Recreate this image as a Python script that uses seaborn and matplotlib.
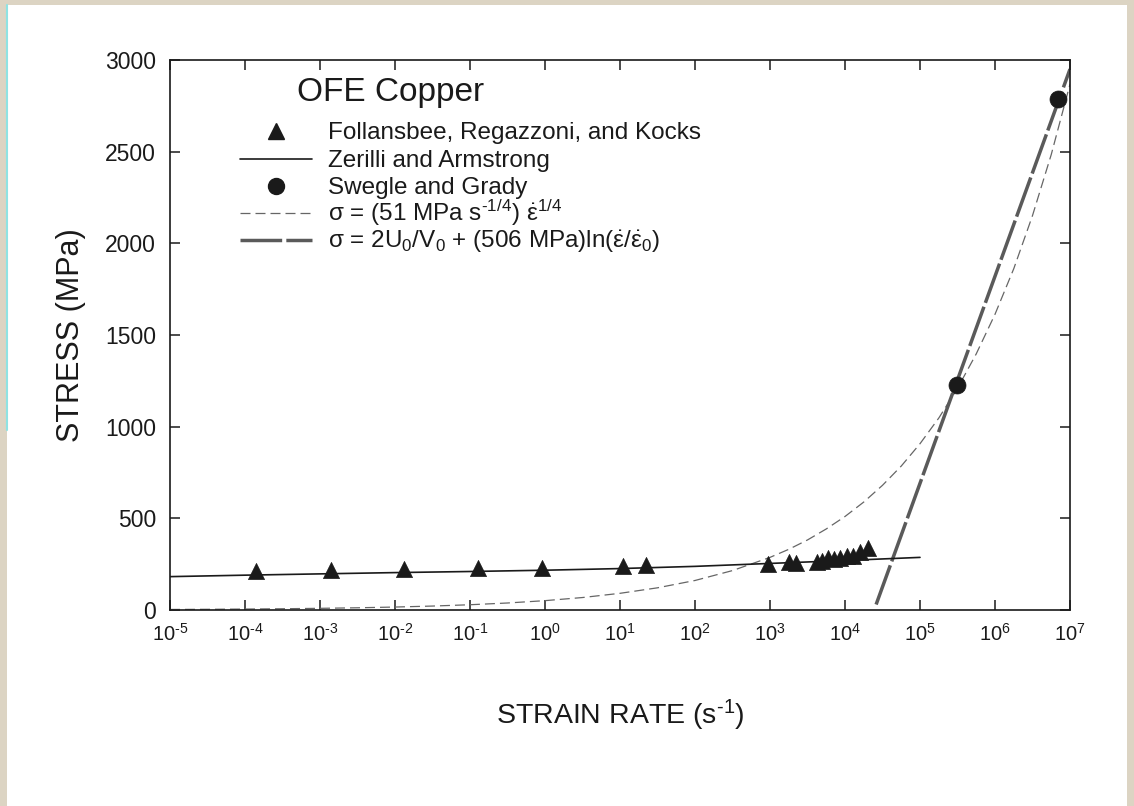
import numpy as np
import pandas as pd
import seaborn as sns
import matplotlib
matplotlib.use("Agg")
import matplotlib.pyplot as plt
from matplotlib.lines import Line2D
from matplotlib.patches import Rectangle

# Follansbee, Regazzoni and Kocks (triangles)
frk_rate = [1.4e-4, 1.4e-3, 1.33e-2, 0.127, 0.92, 10.9, 22.0,
            930.0, 1.8e3, 2.2e3,
            4.2e3, 5.0e3, 6.0e3, 7.2e3, 8.5e3, 1.05e4, 1.26e4, 1.58e4, 2.0e4]
frk_stress = [215, 218, 224, 230, 231, 242, 248,
              253, 262, 256,
              262, 270, 286, 278, 282, 292, 296, 316, 340]

# Zerilli and Armstrong model (solid line)
za_rate = [1e-5, 1e-4, 1e-3, 1e-2, 1e-1, 1e0, 1e1, 1e2, 1e3, 1e4, 1e5]
za_stress = [182, 190, 197, 204, 210, 217, 226, 238, 254, 270, 287]

# Swegle and Grady (circles)
sg_rate = [3.1e5, 6.9e6]
sg_stress = [1227, 2786]

# sigma = (51 MPa s^-1/4) rate^1/4 (short dashes)
pw_rate = [1e-5, 3.16e-5, 1e-4, 3.16e-4, 1e-3, 3.16e-3, 1e-2, 3.16e-2, 1e-1,
           3.16e-1, 1e0, 3.16e0, 1e1, 3.16e1, 1e2, 3.16e2, 1e3, 1.78e3,
           3.16e3, 5.62e3, 1e4, 1.78e4, 3.16e4, 5.62e4, 1e5, 1.78e5, 3.16e5,
           5.62e5, 1e6, 1.78e6, 3.16e6, 5.62e6, 1e7]
pw_stress = [2.9, 3.8, 5.1, 6.8, 9.1, 12.1, 16.1, 21.5, 28.7,
             38.2, 51, 68, 91, 121, 161, 215, 287, 331,
             382, 442, 510, 589, 680, 785, 907, 1047, 1209,
             1397, 1613, 1862, 2151, 2484, 2868]

# sigma = 2U0/V0 + (506 MPa) ln(rate/rate0) (long dashes)
ln_rate = [2.6e4, 1.0e7]
ln_stress = [30, 2950]

y_ticks = [0, 500, 1000, 1500, 2000, 2500, 3000]
x_exponents = list(range(-5, 8))
x_ticklabels = [r"$10^{%s}$" % (r"\text{-}%d" % -e if e < 0 else "%d" % e)
                for e in x_exponents]

legend_labels = [
    "Follansbee, Regazzoni, and Kocks",
    "Zerilli and Armstrong",
    "Swegle and Grady",
    r"σ = (51 MPa s$^{\text{-}1/4}$) $\dot{\varepsilon}^{1/4}$",
    r"σ = 2U$_0$/V$_0$ + (506 MPa)ln($\dot{\varepsilon}/\dot{\varepsilon}_0$)",
]

sns.set_theme(style="ticks")
plt.rcParams["font.family"] = ["Liberation Sans", "DejaVu Sans"]
plt.rcParams["mathtext.fontset"] = "custom"
plt.rcParams["mathtext.rm"] = "Liberation Sans"
plt.rcParams["mathtext.it"] = "Liberation Sans:italic"
plt.rcParams["mathtext.bf"] = "Liberation Sans:bold"
plt.rcParams["mathtext.default"] = "regular"

ink = "#1a1a1a"
curve_grey = "#666666"
line_grey = "#5a5a5a"

W, H = 1134, 806
fig = plt.figure(figsize=(W / 100, H / 100), dpi=100)
fig.patch.set_facecolor("#dcd4c3")
# white page inside a thin textured border
page = Rectangle((7 / W, 0), (1127 - 7) / W, (H - 5) / H,
                 transform=fig.transFigure, facecolor="white",
                 edgecolor="none", zorder=-10)
fig.add_artist(page)
edge = Line2D([6.5 / W, 6.5 / W], [1 - 430 / H, 1 - 5 / H],
              transform=fig.transFigure, color="#8fe3e3", lw=1.5, zorder=-5)
fig.add_artist(edge)

# plot frame: 170..1070 px across, 60..610 px down
ax = fig.add_axes([170 / W, (H - 610) / H, 900 / W, 550 / H])
ax.set_facecolor("white")

frk = pd.DataFrame({"rate": frk_rate, "stress": frk_stress})
za = pd.DataFrame({"rate": za_rate, "stress": za_stress})
sg = pd.DataFrame({"rate": sg_rate, "stress": sg_stress})
pw = pd.DataFrame({"rate": pw_rate, "stress": pw_stress})
lnl = pd.DataFrame({"rate": ln_rate, "stress": ln_stress})

curve_style = dict(color=curve_grey, lw=0.9, linestyle=(0, (8, 4)))
za_style = dict(color=ink, lw=1.2)
ln_style = dict(color=line_grey, lw=2.5, linestyle=(0, (12, 1.2)))

sns.lineplot(data=pw, x="rate", y="stress", ax=ax, sort=False, zorder=2,
             **curve_style)
sns.lineplot(data=za, x="rate", y="stress", ax=ax, sort=False, zorder=3,
             **za_style)
sns.lineplot(data=lnl, x="rate", y="stress", ax=ax, sort=False, zorder=2,
             **ln_style)
sns.scatterplot(data=frk, x="rate", y="stress", ax=ax, marker="^", s=135,
                color=ink, edgecolor=ink, linewidth=0.5, zorder=4)
sns.scatterplot(data=sg, x="rate", y="stress", ax=ax, marker="o", s=150,
                color=ink, edgecolor=ink, linewidth=0.5, zorder=4)

ax.set_xscale("log")
ax.set_xlim(1e-5, 1e7)
ax.set_ylim(0, 3000)
ax.set_xticks([10.0 ** e for e in x_exponents])
ax.set_xticklabels(x_ticklabels)
ax.xaxis.set_minor_locator(matplotlib.ticker.NullLocator())
ax.set_yticks(y_ticks)
ax.set_yticklabels([str(v) for v in y_ticks])

for side in ["left", "right", "top", "bottom"]:
    ax.spines[side].set_visible(True)
    ax.spines[side].set_color(ink)
    ax.spines[side].set_linewidth(1.2)
ax.tick_params(axis="both", which="major", direction="in", length=7,
               width=1.1, color=ink, top=True, right=True)
ax.tick_params(axis="x", labelsize=14.5, pad=9, labelcolor=ink)
ax.tick_params(axis="y", labelsize=16.5, pad=10, labelcolor=ink)

ax.set_xlabel(r"STRAIN RATE (s$^{\text{-}1}$)", fontsize=20.5, color=ink)
ax.set_ylabel("STRESS (MPa)", fontsize=22, color=ink)
ax.xaxis.set_label_coords(0.5, -0.16)
ax.yaxis.set_label_coords(-0.093, 0.5)


def ax_x(px):
    return (px - 170) / 900


def ax_y(py):
    return (610 - py) / 550


ax.text(ax_x(297), ax_y(101), "OFE Copper", transform=ax.transAxes,
        fontsize=24, color=ink, ha="left", va="baseline")

# key: symbol column 240..312 px, text from 328 px, rows 27 px apart
row_centres = [131, 158.5, 186, 213, 240]
keys = [
    dict(marker="^", ls="none", color=ink, markersize=11),
    dict(za_style),
    dict(marker="o", ls="none", color=ink, markersize=11.5),
    dict(curve_style),
    dict(ln_style),
]
for yc, key, label in zip(row_centres, keys, legend_labels):
    if key.get("ls") == "none":
        xs = [ax_x(276)]
        ys = [ax_y(yc)]
    else:
        xs = [ax_x(240), ax_x(312)]
        ys = [ax_y(yc), ax_y(yc)]
    ax.add_line(Line2D(xs, ys, transform=ax.transAxes, clip_on=False, **key))
    ax.text(ax_x(328), ax_y(yc + 8), label, transform=ax.transAxes,
            fontsize=17.5, color=ink, ha="left", va="baseline")

fig.savefig("out.png", dpi=100, facecolor=fig.get_facecolor())
